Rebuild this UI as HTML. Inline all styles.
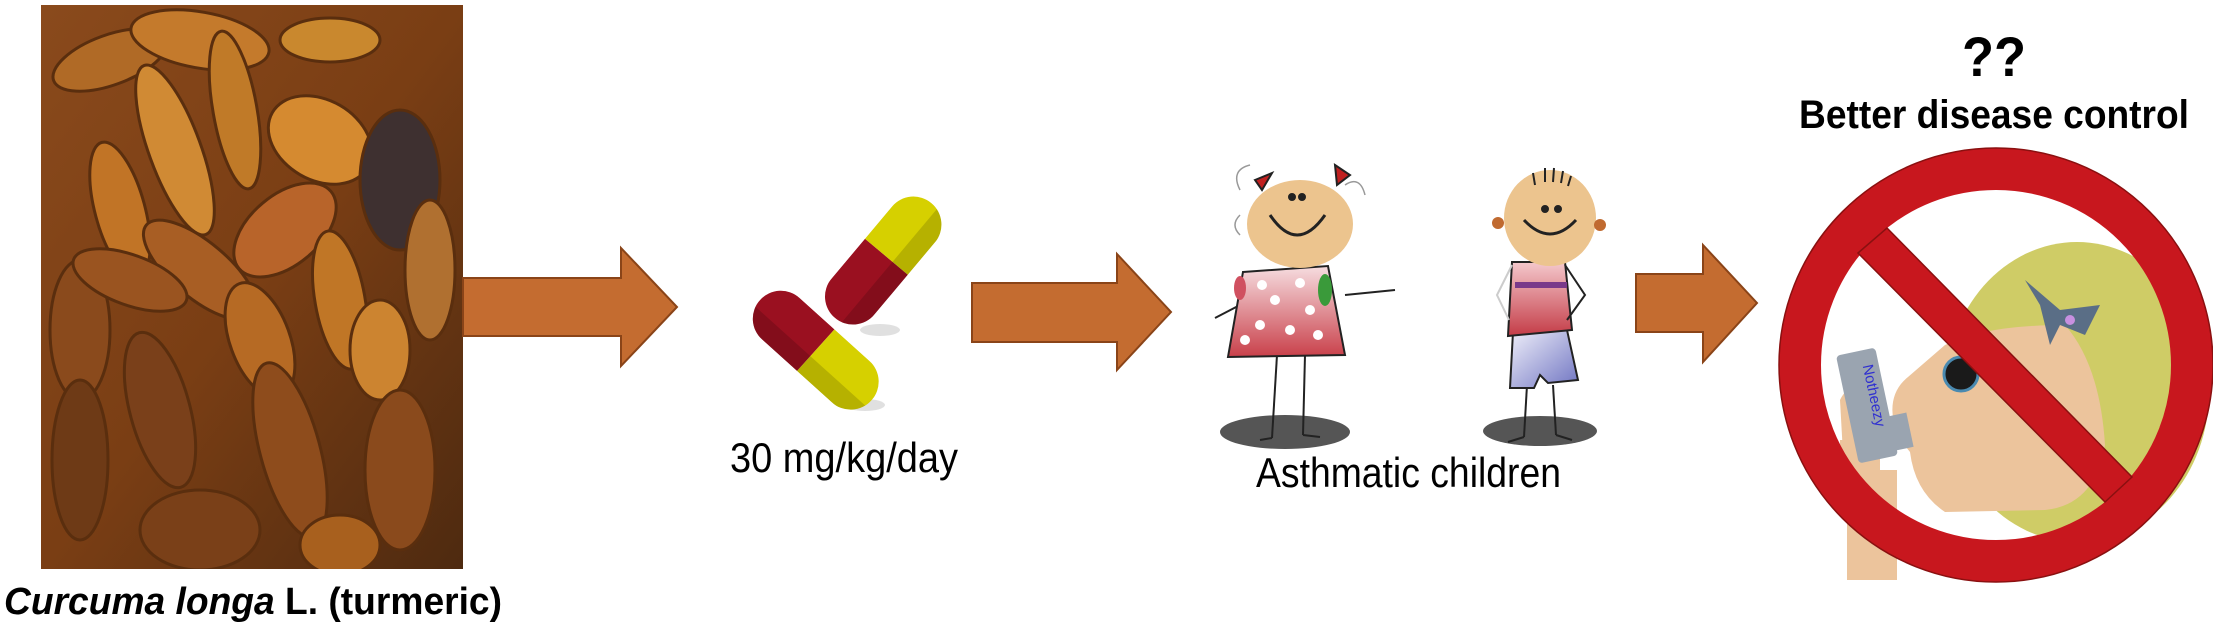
<!DOCTYPE html>
<html><head><meta charset="utf-8"><style>
html,body{margin:0;padding:0;background:#fff;}
svg{display:block}
text{font-family:"Liberation Sans",Arial,sans-serif}
</style></head><body>
<svg width="2213" height="628" viewBox="0 0 2213 628" xmlns="http://www.w3.org/2000/svg">
<defs>
<linearGradient id="dress" x1="0" y1="0" x2="0" y2="1"><stop offset="0" stop-color="#f6dde0"/><stop offset="1" stop-color="#c9404a"/></linearGradient>
<linearGradient id="shirt" x1="0" y1="0" x2="0" y2="1"><stop offset="0" stop-color="#f4c8cc"/><stop offset="1" stop-color="#c43c47"/></linearGradient>
<linearGradient id="pants" x1="0" y1="0" x2="1" y2="1"><stop offset="0" stop-color="#f0f0fa"/><stop offset="1" stop-color="#6f74c2"/></linearGradient>
<linearGradient id="photo" x1="0" y1="0" x2="1" y2="1"><stop offset="0" stop-color="#8a4a1c"/><stop offset="0.5" stop-color="#7a3e14"/><stop offset="1" stop-color="#4e2a10"/></linearGradient>
<clipPath id="pc"><rect x="41" y="5" width="422" height="564"/></clipPath>
<clipPath id="inner"><circle cx="1996" cy="365" r="176"/></clipPath>
<clipPath id="pill"><rect x="0" y="0" width="150" height="56" rx="28"/></clipPath>
</defs>

<!-- turmeric photo -->
<rect x="41" y="5" width="422" height="564" fill="url(#photo)"/>
<g clip-path="url(#pc)" fill="#c47a2c" stroke="#5a2e0e" stroke-width="3">
<ellipse cx="110" cy="60" rx="60" ry="25" transform="rotate(-20 110 60)" fill="#b06a26"/>
<ellipse cx="200" cy="40" rx="70" ry="28" transform="rotate(10 200 40)"/>
<ellipse cx="330" cy="40" rx="50" ry="22" fill="#c9882e"/>
<ellipse cx="175" cy="150" rx="90" ry="26" transform="rotate(70 175 150)" fill="#d08a34"/>
<ellipse cx="235" cy="110" rx="80" ry="22" transform="rotate(80 235 110)" fill="#c07a28"/>
<ellipse cx="320" cy="140" rx="55" ry="40" transform="rotate(30 320 140)" fill="#d58a30"/>
<ellipse cx="120" cy="210" rx="70" ry="25" transform="rotate(75 120 210)" fill="#c17426"/>
<ellipse cx="285" cy="230" rx="60" ry="35" transform="rotate(-40 285 230)" fill="#b8642a"/>
<ellipse cx="400" cy="180" rx="40" ry="70" fill="#3e3030"/>
<ellipse cx="200" cy="270" rx="70" ry="28" transform="rotate(40 200 270)" fill="#a85e24"/>
<ellipse cx="340" cy="300" rx="25" ry="70" transform="rotate(-10 340 300)" fill="#c07626"/>
<ellipse cx="80" cy="330" rx="30" ry="70" fill="#8a4a1c"/>
<ellipse cx="130" cy="280" rx="60" ry="25" transform="rotate(20 130 280)" fill="#9a5420"/>
<ellipse cx="260" cy="340" rx="30" ry="60" transform="rotate(-20 260 340)" fill="#b66a24"/>
<ellipse cx="380" cy="350" rx="30" ry="50" fill="#cc8430"/>
<ellipse cx="430" cy="270" rx="25" ry="70" fill="#b07030"/>
<ellipse cx="160" cy="410" rx="30" ry="80" transform="rotate(-15 160 410)" fill="#7a401a"/>
<ellipse cx="290" cy="450" rx="30" ry="90" transform="rotate(-15 290 450)" fill="#8e4c1c"/>
<ellipse cx="80" cy="460" rx="28" ry="80" fill="#6e3a16"/>
<ellipse cx="400" cy="470" rx="35" ry="80" fill="#8a4a1c"/>
<ellipse cx="200" cy="530" rx="60" ry="40" fill="#7a4018"/>
<ellipse cx="340" cy="545" rx="40" ry="30" fill="#a8601e"/>
</g>
<text x="4" y="614" font-size="38" font-weight="bold" textLength="498" lengthAdjust="spacingAndGlyphs"><tspan font-style="italic">Curcuma longa</tspan> L. (turmeric)</text>

<!-- arrows -->
<g fill="#c46c30" stroke="#8a4418" stroke-width="2">
<polygon points="463,278 621,278 621,248 677,307 621,366 621,336 463,336"/>
<polygon points="972,283 1117,283 1117,254 1171,312 1117,370 1117,342 972,342"/>
<polygon points="1636,274 1703,274 1703,245 1757,303 1703,362 1703,332 1636,332"/>
</g>

<!-- pills -->
<ellipse cx="880" cy="330" rx="20" ry="6" fill="#000" opacity="0.12"/>
<ellipse cx="865" cy="405" rx="20" ry="6" fill="#000" opacity="0.12"/>
<g transform="translate(835,318) rotate(-50) translate(0,-28)">
<g clip-path="url(#pill)"><rect x="0" y="0" width="80" height="56" fill="#9a1020"/><rect x="80" y="0" width="70" height="56" fill="#d6d000"/><rect x="0" y="36" width="150" height="20" fill="#000" opacity="0.15"/></g>
</g>
<g transform="translate(760,300) rotate(42) translate(0,-28)">
<g clip-path="url(#pill)"><rect x="0" y="0" width="75" height="56" fill="#9a1020"/><rect x="75" y="0" width="75" height="56" fill="#d6d000"/><rect x="0" y="36" width="150" height="20" fill="#000" opacity="0.15"/></g>
</g>
<text x="730" y="472" font-size="42" textLength="228" lengthAdjust="spacingAndGlyphs">30 mg/kg/day</text>

<!-- girl -->
<g stroke="#222" stroke-width="2">
<ellipse cx="1285" cy="432" rx="65" ry="17" fill="#555" stroke="none"/>
<line x1="1277" y1="355" x2="1272" y2="438"/><line x1="1305" y1="355" x2="1303" y2="435"/>
<line x1="1260" y1="440" x2="1272" y2="438"/><line x1="1303" y1="435" x2="1320" y2="437"/>
<line x1="1240" y1="305" x2="1215" y2="318"/><line x1="1345" y1="295" x2="1395" y2="290"/>
<polygon points="1243,272 1328,266 1345,355 1228,357" fill="url(#dress)"/>
<g fill="#fff" stroke="none"><circle cx="1262" cy="285" r="5"/><circle cx="1300" cy="283" r="5"/><circle cx="1275" cy="300" r="5"/><circle cx="1310" cy="310" r="5"/><circle cx="1260" cy="325" r="5"/><circle cx="1290" cy="330" r="5"/><circle cx="1318" cy="335" r="5"/><circle cx="1245" cy="340" r="5"/></g>
<ellipse cx="1325" cy="290" rx="7" ry="16" fill="#3a9a3a" stroke="none"/>
<ellipse cx="1240" cy="288" rx="6" ry="12" fill="#d05060" stroke="none"/>
<ellipse cx="1300" cy="224" rx="53" ry="44" fill="#ecc48e" stroke="none"/>
<path d="M1270 215 q27 40 55 0" fill="none" stroke-width="3"/>
<circle cx="1292" cy="197" r="3" fill="#222"/><circle cx="1302" cy="197" r="3" fill="#222"/>
<polygon points="1255,180 1272,173 1262,190" fill="#c02020"/><polygon points="1335,165 1350,175 1337,185" fill="#c02020"/>
<path d="M1240 190 q-10 -20 10 -25 M1345 185 q15 -10 20 10 M1240 215 q-10 10 0 20" fill="none" stroke="#999" stroke-width="1.5"/>
</g>

<!-- boy -->
<g stroke="#222" stroke-width="2">
<ellipse cx="1540" cy="431" rx="57" ry="15" fill="#555" stroke="none"/>
<line x1="1527" y1="385" x2="1524" y2="437"/><line x1="1553" y1="385" x2="1556" y2="435"/>
<line x1="1508" y1="442" x2="1524" y2="437"/><line x1="1556" y1="435" x2="1572" y2="440"/>
<polygon points="1513,332 1567,330 1578,380 1548,383 1540,375 1534,388 1510,388" fill="url(#pants)"/>
<polygon points="1512,262 1565,262 1572,330 1508,336" fill="url(#shirt)"/>
<rect x="1515" y="282" width="52" height="6" fill="#7a3a8a" stroke="none"/>
<path d="M1565 265 l20 30 -18 25" fill="none"/>
<path d="M1512 265 l-15 30 12 25" fill="none" stroke="#ccc"/>
<ellipse cx="1550" cy="218" rx="46" ry="48" fill="#ecc48e" stroke="none"/>
<circle cx="1498" cy="223" r="6" fill="#c06a30" stroke="none"/><circle cx="1600" cy="225" r="6" fill="#c06a30" stroke="none"/>
<path d="M1524 220 q26 28 52 0" fill="none" stroke-width="3"/>
<circle cx="1545" cy="209" r="3" fill="#222"/><circle cx="1558" cy="209" r="3" fill="#222"/>
<path d="M1535 185 l-2 -12 M1545 182 l0 -14 M1553 182 l1 -14 M1561 183 l2 -12 M1568 186 l3 -10" fill="none"/>
</g>
<text x="1256" y="487" font-size="42" textLength="305" lengthAdjust="spacingAndGlyphs">Asthmatic children</text>

<!-- right -->
<text x="1962" y="76" font-size="56" font-weight="bold" textLength="64" lengthAdjust="spacingAndGlyphs">??</text>
<text x="1799" y="128" font-size="40" font-weight="bold" textLength="390" lengthAdjust="spacingAndGlyphs">Better disease control</text>

<!-- no sign content -->
<ellipse cx="2077" cy="392" rx="132" ry="150" fill="#cfcc66"/>
<g clip-path="url(#inner)">
<path d="M1945 345 q40 -20 120 -20 q35 40 40 120 q-10 60 -60 65 l-100 2 q-30 -20 -35 -60 l-12 -15 q-15 -40 10 -60 z" fill="#ecc49c"/>
<rect x="1840" y="440" width="40" height="150" fill="#ecc49c"/>
</g>
<rect x="1847" y="470" width="50" height="110" fill="#ecc49c"/>
<path d="M1840 400 q10 -20 25 -10 l10 100 h-30z" fill="#ecc49c"/>
<g transform="rotate(-12 1870 410)"><rect x="1848" y="350" width="40" height="110" rx="4" fill="#9aa4b0"/><rect x="1865" y="420" width="40" height="35" fill="#9aa4b0"/>
<text x="1872" y="365" font-size="15" fill="#3030d0" transform="rotate(90 1872 365)">Notheezy</text></g>
<circle cx="1961" cy="374" r="17" fill="#1a1a1a" stroke="#4a8ab0" stroke-width="3"/>
<path d="M2040 305 l-15 -25 35 30 40 -5 -15 30 -25 -10 -10 20z" fill="#5a6e86"/>
<circle cx="2070" cy="320" r="5" fill="#c890e0"/>
<!-- ring -->
<circle cx="1996" cy="365" r="196" fill="none" stroke="#c8171e" stroke-width="42"/>
<circle cx="1996" cy="365" r="217" fill="none" stroke="#8a1010" stroke-width="1.5"/>
<polygon points="1858,253 1887,228 2132,477 2105,502" fill="#c8171e" stroke="#8a1010" stroke-width="1.5"/>
</svg>
</body></html>
